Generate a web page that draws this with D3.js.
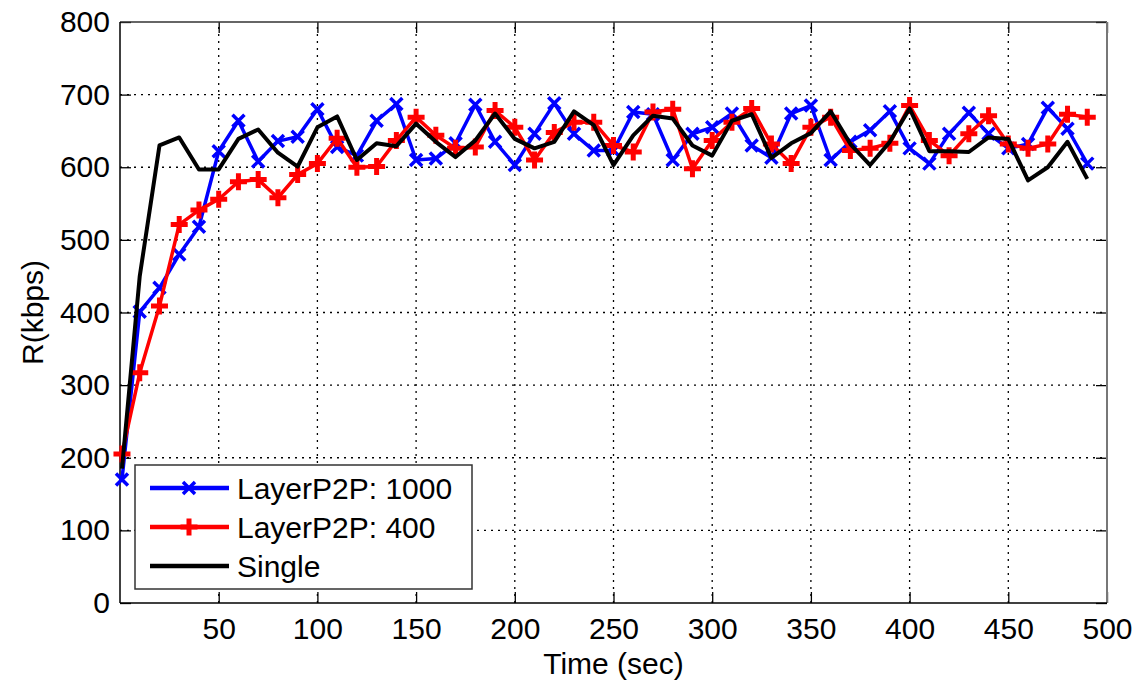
<!DOCTYPE html>
<html>
<head>
<meta charset="utf-8">
<script src="https://cdn.jsdelivr.net/npm/d3@7"></script>
<style>
  body { margin: 0; background: #fff; }
  svg { font-family: "Liberation Sans", Arial, sans-serif; }
</style>
</head>
<body>
<svg width="1138" height="682"></svg>
<script>
// time in seconds
var times = [1, 10, 20, 30, 40, 50, 60, 70, 80, 90,
  100, 110, 120, 130, 140, 150, 160, 170, 180, 190,
  200, 210, 220, 230, 240, 250, 260, 270, 280, 290,
  300, 310, 320, 330, 340, 350, 360, 370, 380, 390,
  400, 410, 420, 430, 440, 450, 460, 470, 480, 490];

var layer1000 = [170, 401, 434, 480, 518, 622, 664, 608, 636, 642,
  680, 628, 616, 664, 687, 610, 612, 633, 686, 635,
  603, 646, 688, 646, 623, 623, 676, 673, 610, 646,
  655, 674, 630, 613, 674, 685, 610, 635, 651, 677,
  626, 605, 646, 675, 646, 626, 632, 682, 653, 605];

var layer400 = [205, 317, 409, 521, 541, 556, 580, 583, 558, 590,
  605, 640, 600, 601, 637, 669, 644, 626, 628, 678,
  655, 610, 648, 662, 662, 630, 621, 676, 680, 598,
  637, 662, 681, 632, 605, 655, 669, 623, 626, 633,
  685, 637, 616, 646, 671, 632, 626, 632, 673, 669];

var single = [185, 450, 630, 641, 597, 597, 639, 652, 620, 601,
  655, 670, 610, 633, 629, 660, 635, 614, 637, 674,
  639, 626, 635, 677, 658, 603, 644, 671, 667, 630,
  616, 664, 673, 613, 633, 647, 677, 632, 603, 635,
  681, 622, 622, 621, 641, 639, 582, 600, 635, 584];

var xTicks = [50, 100, 150, 200, 250, 300, 350, 400, 450, 500];
var yTicks = [0, 100, 200, 300, 400, 500, 600, 700, 800];

var seriesNames = ["LayerP2P: 1000", "LayerP2P: 400", "Single"];
var seriesColors = ["#0000ff", "#ff0000", "#000000"];
var seriesMarkers = ["x", "plus", "none"];

var plotLeft = 120, plotRight = 1107, plotTop = 22, plotBottom = 603;
var fontSize = 30;

var svg = d3.select("svg");

var x = d3.scaleLinear().domain([0, 500]).range([plotLeft, plotRight]);
var y = d3.scaleLinear().domain([0, 800]).range([plotBottom, plotTop]);

// dotted grid
var grid = svg.append("g").attr("class", "grid")
  .attr("stroke", "#000").attr("stroke-width", 1.3)
  .attr("stroke-dasharray", "2,5");

grid.selectAll(".vg")
  .data(xTicks.filter(function (d) { return d < 500; }))
  .enter().append("line")
  .attr("x1", function (d) { return x(d); })
  .attr("x2", function (d) { return x(d); })
  .attr("y1", plotBottom).attr("y2", plotTop);

grid.selectAll(".hg")
  .data(yTicks.filter(function (d) { return d > 0 && d < 800; }))
  .enter().append("line")
  .attr("x1", plotLeft).attr("x2", plotRight)
  .attr("y1", function (d) { return y(d); })
  .attr("y2", function (d) { return y(d); });

// axes, MATLAB style with inside ticks
var xAxis = svg.append("g")
  .attr("transform", "translate(0," + plotBottom + ")")
  .call(d3.axisBottom(x).tickValues(xTicks).tickSizeInner(-11).tickSizeOuter(0).tickPadding(15));

var yAxis = svg.append("g")
  .attr("transform", "translate(" + plotLeft + ",0)")
  .call(d3.axisLeft(y).tickValues(yTicks).tickSizeInner(-11).tickSizeOuter(0).tickPadding(10));

var xTop = svg.append("g")
  .attr("transform", "translate(0," + plotTop + ")")
  .call(d3.axisTop(x).tickValues(xTicks).tickSizeInner(-11).tickSizeOuter(0).tickFormat(""));

var yRight = svg.append("g")
  .attr("transform", "translate(" + plotRight + ",0)")
  .call(d3.axisRight(y).tickValues(yTicks).tickSizeInner(-11).tickSizeOuter(0).tickFormat(""));

[xAxis, yAxis, xTop, yRight].forEach(function (a) {
  a.select(".domain").remove();
  a.selectAll("line").attr("stroke", "#000").attr("stroke-width", 1.3);
  a.selectAll("text").attr("fill", "#000").style("font-size", fontSize + "px")
    .style("font-family", "'Liberation Sans', Arial, sans-serif");
});

// box
svg.append("line").attr("x1", plotLeft).attr("x2", plotRight).attr("y1", plotTop).attr("y2", plotTop)
  .attr("stroke", "#333").attr("stroke-width", 1.5);
svg.append("line").attr("x1", plotRight).attr("x2", plotRight).attr("y1", plotTop).attr("y2", plotBottom)
  .attr("stroke", "#777").attr("stroke-width", 2);
svg.append("line").attr("x1", plotLeft).attr("x2", plotRight).attr("y1", plotBottom).attr("y2", plotBottom)
  .attr("stroke", "#000").attr("stroke-width", 1.5);
svg.append("line").attr("x1", plotLeft).attr("x2", plotLeft).attr("y1", plotTop).attr("y2", plotBottom)
  .attr("stroke", "#000").attr("stroke-width", 1.5);

// lines
var series = [layer1000, layer400, single];
var line = d3.line()
  .x(function (d, i) { return x(times[i]); })
  .y(function (d) { return y(d); });

function markerPath(type) {
  if (type === "x") return "M-6,-6L6,6M-6,6L6,-6";
  if (type === "plus") return "M-8.5,0H8.5M0,-8.5V8.5";
  return "";
}

series.forEach(function (vals, k) {
  var g = svg.append("g");
  g.append("path")
    .datum(vals)
    .attr("fill", "none")
    .attr("stroke", seriesColors[k])
    .attr("stroke-width", k === 2 ? 4 : 3.5)
    .attr("stroke-linejoin", "round")
    .attr("d", line);
  if (seriesMarkers[k] !== "none") {
    g.selectAll(".m")
      .data(vals)
      .enter().append("path")
      .attr("transform", function (d, i) { return "translate(" + x(times[i]) + "," + y(d) + ")"; })
      .attr("d", markerPath(seriesMarkers[k]))
      .attr("stroke", seriesColors[k])
      .attr("stroke-width", k === 1 ? 5 : 3.5)
      .attr("fill", "none");
  }
});

// axis titles
svg.append("text")
  .attr("x", (plotLeft + plotRight) / 2)
  .attr("y", 674)
  .attr("text-anchor", "middle")
  .style("font-size", fontSize + "px")
  .text("Time (sec)");

svg.append("text")
  .attr("transform", "translate(43," + (plotTop + plotBottom) / 2 + ") rotate(-90)")
  .attr("text-anchor", "middle")
  .style("font-size", fontSize + "px")
  .text("R(kbps)");

// legend
var legend = svg.append("g").attr("transform", "translate(135,465)");
legend.append("rect")
  .attr("width", 337).attr("height", 124)
  .attr("fill", "#fff").attr("stroke", "#333").attr("stroke-width", 1.5);

var items = legend.selectAll(".item")
  .data(seriesNames)
  .enter().append("g")
  .attr("transform", function (d, i) { return "translate(0," + (23 + i * 39) + ")"; });

items.append("line")
  .attr("x1", 15).attr("x2", 94)
  .attr("stroke", function (d, i) { return seriesColors[i]; })
  .attr("stroke-width", 4.5);

items.append("path")
  .attr("transform", "translate(54,0)")
  .attr("d", function (d, i) { return markerPath(seriesMarkers[i]); })
  .attr("stroke", function (d, i) { return seriesColors[i]; })
  .attr("stroke-width", function (d, i) { return i === 1 ? 5 : 3.5; })
  .attr("fill", "none");

items.append("text")
  .attr("x", 102)
  .attr("dy", "0.36em")
  .style("font-size", fontSize + "px")
  .text(function (d) { return d; });
</script>
</body>
</html>
